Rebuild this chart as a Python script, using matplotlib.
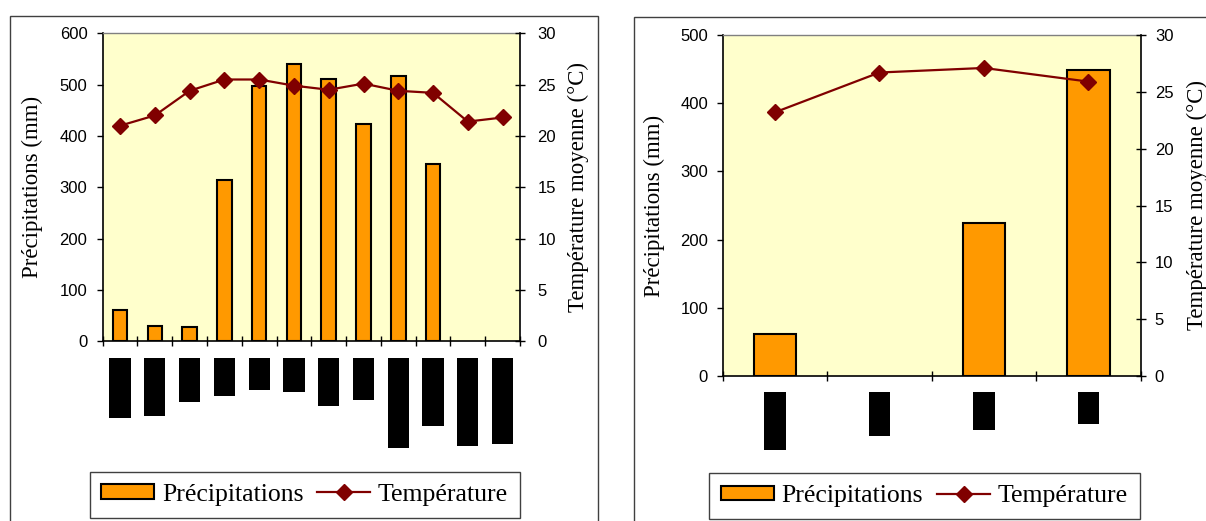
import matplotlib
matplotlib.use("Agg")
import matplotlib.pyplot as plt
from matplotlib.patches import Rectangle, Patch
from matplotlib.lines import Line2D
import numpy as np

# ---------------- data ----------------
# Left panel: 12 months (labels redacted in the source image)
left_precip = [61, 30, 27, 314, 498, 541, 510, 424, 517, 345, 0, 0]
left_temp = [21.0, 22.0, 24.4, 25.5, 25.5, 24.9, 24.5, 25.1, 24.4, 24.2, 21.4, 21.8]
# heights (in pixels) of the black boxes that hide the category labels
left_label_boxes = [59.7, 57.7, 43.7, 37.7, 31.7, 33.7, 47.7, 41.7, 89.7, 67.7, 87.7, 85.7]

# Right panel: 4 categories
right_precip = [62, 0, 224, 449]
right_temp = [23.2, 26.7, 27.1, 25.9]
right_label_boxes = [58, 44, 38, 32]

precip_label = "Précipitations (mm)"
temp_label = "Température moyenne (°C)"
legend_labels = ["Précipitations", "Température"]

# ---------------- style ----------------
W, H = 1206, 521
BG = "#FFFFCC"
BAR = "#FF9900"
LINE = "#800000"
SANS = ["Liberation Sans", "DejaVu Sans"]
SERIF = ["Liberation Serif", "DejaVu Serif"]

fig = plt.figure(figsize=(W / 100, H / 100), dpi=100)


def fx(px):
    return px / W


def fy(py):
    return 1 - py / H


def panel(x0, x1, ytop, ybot, precip, temp, pmax, pstep, box_heights, box_top,
          bar_w, box_w, lpad, rpad, lab_l, lab_r, leg_y, leg_x):
    ax = fig.add_axes([fx(x0), fy(ybot), fx(x1 - x0), (ybot - ytop) / H])
    n = len(precip)
    xs = np.arange(n)
    ax.set_facecolor(BG)
    edge_w = [1.5 if v > 0 else 0 for v in precip]
    ax.bar(xs, precip, width=bar_w, color=BAR, edgecolor="black", linewidth=edge_w, zorder=2)
    ax.set_xlim(-0.5, n - 0.5)
    ax.set_ylim(0, pmax)
    ax.set_yticks(np.arange(0, pmax + 1, pstep))
    ax.set_xticks(np.arange(-0.5, n, 1.0))
    ax.set_xticklabels([])
    ax.tick_params(axis="x", direction="inout", length=7, width=1, color="black")
    ax.tick_params(axis="y", direction="out", length=4.5, width=1, pad=lpad,
                   labelsize=12, color="black")
    for lab in ax.get_yticklabels():
        lab.set_fontfamily(SANS)
    ax.spines["top"].set_color("#808080")
    ax.spines["top"].set_linewidth(1)
    for s in ["left", "bottom"]:
        ax.spines[s].set_color("black")
        ax.spines[s].set_linewidth(1.2)
    ax.spines["right"].set_visible(False)
    ax.set_ylabel(precip_label, fontsize=16.5, family=SERIF)
    ax.yaxis.set_label_coords(lab_l, 0.5)

    ax2 = ax.twinx()
    ax2.plot(xs, temp, color=LINE, linewidth=1.6, marker="D", markersize=8.5,
             markerfacecolor=LINE, markeredgecolor=LINE, zorder=3)
    ax2.set_ylim(0, 30)
    ax2.set_yticks(np.arange(0, 31, 5))
    ax2.tick_params(axis="y", direction="inout", length=7, width=1, pad=rpad,
                    labelsize=12, color="black")
    for lab in ax2.get_yticklabels():
        lab.set_fontfamily(SANS)
    ax2.spines["right"].set_color("black")
    ax2.spines["right"].set_linewidth(1.2)
    ax2.spines["top"].set_visible(False)
    ax2.spines["left"].set_visible(False)
    ax2.spines["bottom"].set_visible(False)
    ax2.set_ylabel(temp_label, fontsize=16.5, family=SERIF)
    ax2.yaxis.set_label_coords(lab_r, 0.5)

    # black boxes hiding the category labels
    axb = fig.add_axes([fx(x0), fy(box_top + 102), fx(x1 - x0), 102 / H])
    axb.bar(xs, box_heights, width=box_w, bottom=0, color="black", linewidth=0)
    axb.set_xlim(-0.5, n - 0.5)
    axb.set_ylim(102, 0)
    axb.axis("off")

    handles = [Patch(facecolor=BAR, edgecolor="black", linewidth=1.5),
               Line2D([0], [0], color=LINE, linewidth=1.6, marker="D", markersize=8.5,
                      markerfacecolor=LINE, markeredgecolor=LINE)]
    leg = fig.legend(handles, legend_labels, loc="center",
                     bbox_to_anchor=(leg_x, leg_y), bbox_transform=fig.transFigure,
                     ncol=2, frameon=True, fancybox=False, framealpha=1,
                     edgecolor="#404040", prop={"family": SERIF, "size": 18.5},
                     handlelength=2.05, handleheight=0.5, handletextpad=0.3,
                     columnspacing=0.55, borderpad=0.46)
    leg.get_frame().set_linewidth(1.0)
    return ax, ax2


panel(102.7, 520.0, 33.3, 341.3, left_precip, left_temp, 600, 100,
      left_label_boxes, 358, 0.42, 0.61, 6.5, 9.0, -0.143, 1.115,
      fy(494.7), fx(304.7))
panel(722.7, 1140.7, 35.0, 376.0, right_precip, right_temp, 500, 100,
      right_label_boxes, 392, 0.41, 0.204, 6.0, 6.7, -0.138, 1.111,
      fy(496.0), fx(924.5))

# outer chart frames
fig.patches.append(Rectangle((fx(10), fy(530)), fx(598 - 10), (530 - 16) / H,
                             transform=fig.transFigure, fill=False,
                             edgecolor="#404040", linewidth=1.0))
fig.patches.append(Rectangle((fx(634), fy(530)), fx(1220 - 634), (530 - 17) / H,
                             transform=fig.transFigure, fill=False,
                             edgecolor="#404040", linewidth=1.0))

fig.savefig("out.png", dpi=100, facecolor="white")
